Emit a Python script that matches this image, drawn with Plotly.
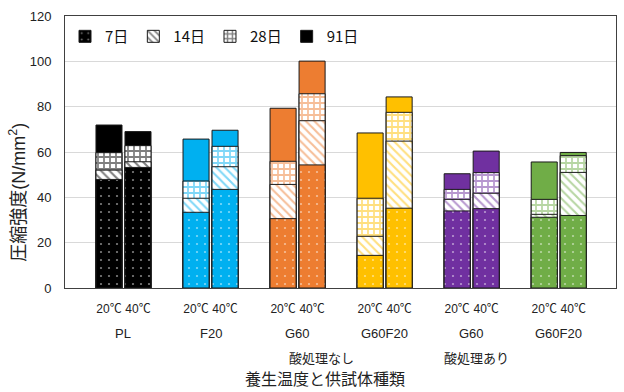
import plotly.graph_objects as go

# Specimen groups (left to right) and curing temperatures within each group
groups = ["PL", "F20", "G60", "G60F20", "G60", "G60F20"]
temps = ["20℃", "40℃"]
treatments = ["酸処理なし", "酸処理あり"]
ages = ["7日", "14日", "28日", "91日"]
group_colors = ["#000000", "#00B0F0", "#ED7D31", "#FFC000", "#7030A0", "#70AD47"]

# Compressive strength (N/mm²) per bar: order = group x temperature
s7 = [47.9, 53.2, 33.4, 43.5, 30.6, 54.3, 14.4, 35.2, 34.0, 35.0, 31.2, 32.0]
s14 = [52.0, 55.7, 39.6, 53.5, 45.7, 73.8, 22.8, 64.8, 39.1, 41.8, 32.5, 51.0]
s28 = [59.7, 62.8, 47.2, 62.5, 55.9, 85.7, 39.6, 77.5, 43.5, 50.9, 39.1, 58.4]
s91 = [71.9, 69.0, 65.7, 69.6, 79.3, 100.1, 68.4, 84.3, 50.4, 60.4, 55.6, 59.8]

# y-axis ticks
y_ticks = [0, 20, 40, 60, 80, 100, 120]

FONT = "Liberation Sans, Arial, Noto Sans CJK JP, sans-serif"
JP_FONT = "Noto Sans CJK JP, sans-serif"

# bar layout within each group
offset = 0.1666
bar_w = 0.299
xs, ticklabels = [], []
for gi, _ in enumerate(groups):
    for ti, t in enumerate(temps):
        xs.append(gi + (ti - 0.5) * 2 * offset)
        ticklabels.append(t)


def pattern_for(age, color):
    if age == "28日":
        return dict(shape="+", fgcolor=color, bgcolor="white", size=6, solidity=0.5)
    if age == "14日":
        return dict(shape="\\", fgcolor=color, bgcolor="white", size=6, solidity=0.35)
    if age == "7日":
        return dict(shape=".", fgcolor="white", bgcolor=color, size=8, solidity=0.06)
    return dict(shape="")


fig = go.Figure()

# Overlaid bars: 91-day at the back, 7-day in front; one trace per group and age
series = {"7日": s7, "14日": s14, "28日": s28, "91日": s91}
for rank, age in zip([4, 3, 2, 1], ["91日", "28日", "14日", "7日"]):
    vals = series[age]
    for gi, col in enumerate(group_colors):
        sl = slice(2 * gi, 2 * gi + 2)
        fig.add_trace(go.Bar(
            x=xs[sl], y=vals[sl], width=bar_w, name=age,
            legendgroup=age, showlegend=(gi == 0), legendrank=rank,
            marker=dict(color="white" if age in ("14日", "28日") else col,
                        line=dict(color="#1a1a1a", width=1),
                        pattern=pattern_for(age, col)),
        ))

fig.update_layout(
    width=624, height=392,
    margin=dict(l=65, r=8, t=16, b=104),
    barmode="overlay",
    plot_bgcolor="white", paper_bgcolor="white",
    font=dict(family=FONT, color="#222222"),
    legend=dict(orientation="h", x=0.0, y=0.985, xanchor="left", yanchor="top",
                font=dict(size=15, family=JP_FONT, color="#111111"),
                bgcolor="rgba(0,0,0,0)", itemwidth=30, tracegroupgap=0),
    showlegend=True,
)
fig.update_xaxes(
    range=[-0.672, 5.658], tickmode="array", tickvals=xs, ticktext=ticklabels,
    tickfont=dict(size=12, family=FONT, color="#222222"), ticks="", ticklabelstandoff=10,
    showgrid=False, zeroline=False, showline=True, linecolor="#404040", linewidth=1, mirror=True,
)
fig.update_yaxes(
    range=[0, 120], tickvals=y_ticks, tickfont=dict(size=13, family=FONT, color="#222222"),
    showgrid=True, gridcolor="#d9d9d9", gridwidth=1, zeroline=False, ticklabelstandoff=10,
    showline=True, linecolor="#404040", linewidth=1, mirror=True, ticks="",
)

# group names under the temperature labels
for gi, g in enumerate(groups):
    fig.add_annotation(x=gi, y=0, xref="x", yref="paper", yshift=-45, yanchor="middle", text=g,
                       showarrow=False, font=dict(size=13, family=FONT, color="#222222"))

# treatment labels
for tx, t in zip([2.28, 4.06], treatments):
    fig.add_annotation(x=tx, y=0, xref="x", yref="paper", yshift=-69, yanchor="middle", text=t,
                       showarrow=False, font=dict(size=13, family=JP_FONT, color="#222222"))

# axis titles
fig.add_annotation(x=0.472, y=0, xref="paper", yref="paper", yshift=-90, yanchor="middle",
                   text="養生温度と供試体種類", showarrow=False,
                   font=dict(size=16, family=JP_FONT, color="#222222"))
fig.add_annotation(x=0, y=0.35, xref="paper", yref="paper", xshift=-47, xanchor="center",
                   yanchor="middle", textangle=-90,
                   text="圧縮強度(N/mm<sup>2</sup>)", showarrow=False,
                   font=dict(size=18, family=FONT, color="#222222"))

fig.write_html("out.html")
